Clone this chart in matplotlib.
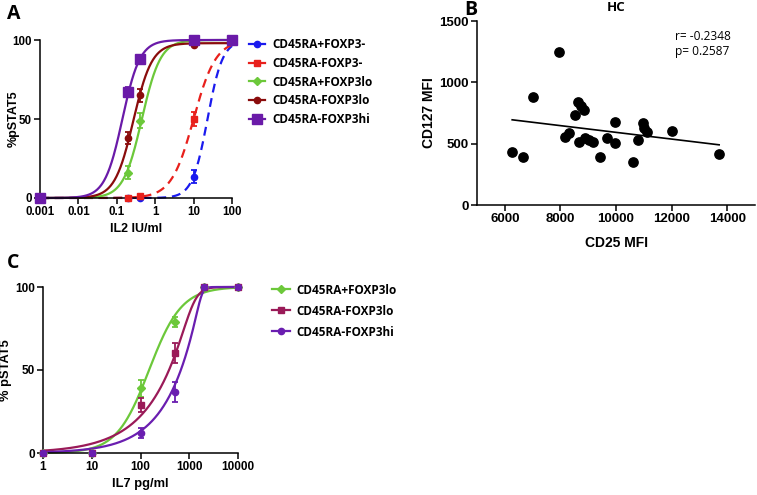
import numpy as np
import matplotlib
matplotlib.use("Agg")
import matplotlib.pyplot as plt
from matplotlib.lines import Line2D

# ---- panel A: IL2 dose response ----
il2_dose = [0.001, 0.2, 0.4, 10, 100]
a_labels = ["CD45RA+FOXP3-", "CD45RA-FOXP3-", "CD45RA+FOXP3lo", "CD45RA-FOXP3lo", "CD45RA-FOXP3hi"]
a_ra_pos_neg = [0, 0, 0, 13.5, 100]
a_ra_pos_neg_err = [0, 0, 0, 4, 0]
a_ra_neg_neg = [0, 0, 1, 50, 100]
a_ra_neg_neg_err = [0, 0, 0.5, 4.5, 0]
a_ra_pos_lo = [0, 16, 49, 99, 100]
a_ra_pos_lo_err = [0, 4, 5, 0, 0]
a_ra_neg_lo = [0, 38, 65, 97, 100]
a_ra_neg_lo_err = [0, 4, 4, 1, 0]
a_ra_neg_hi = [0, 67, 88, 100, 100]
a_ra_neg_hi_err = [0, 3, 2, 0, 0]
# fitted curve parameters (EC50, hill slope, top)
a_fit = [(23, 2.2, 100), (10, 1.5, 100), (0.45, 1.8, 100), (0.27, 1.8, 98), (0.14, 1.9, 100)]

# ---- panel B: CD25 vs CD127 ----
cd25_mfi = [6265, 6653, 7026, 7958, 8175, 8295, 8537, 8621, 8744, 8864, 8657, 8900, 9045,
            9190, 9433, 9672, 9951, 9976, 10615, 10795, 10977, 11003, 11100, 12029, 13710]
cd127_mfi = [431, 388, 881, 1248, 551, 584, 730, 841, 806, 773, 515, 543, 529,
             515, 388, 543, 678, 507, 350, 529, 665, 629, 597, 600, 418]
b_stats = ["r= -0.2348", "p= 0.2587"]

# ---- panel C: IL7 dose response ----
il7_dose = [1, 10, 100, 500, 2000, 10000]
c_labels = ["CD45RA+FOXP3lo", "CD45RA-FOXP3lo", "CD45RA-FOXP3hi"]
c_ra_pos_lo = [0, 0, 39, 79, 100, 100]
c_ra_pos_lo_err = [0, 0, 5, 3, 0, 0]
c_ra_neg_lo = [0, 0, 29, 60, 100, 100]
c_ra_neg_lo_err = [0, 0, 4, 6, 0, 0]
c_ra_neg_hi = [0, 0, 12, 37, 100, 100]
c_ra_neg_hi_err = [0, 0, 3, 6, 0, 0]
# asymmetric fit parameters (EC50, hill, asymmetry)
c_fit = [(150, 1.3, 1.0), (1218, 4, 0.15), (1810, 10, 0.07)]


def dose_curve(x, ec50, hill, top=100, asym=1.0):
    return top / (1 + (ec50 / x) ** hill) ** asym


def style_axes(ax, tick_size):
    for s in ["top", "right"]:
        ax.spines[s].set_visible(False)
    for s in ["left", "bottom"]:
        ax.spines[s].set_linewidth(1.1)
    ax.tick_params(length=4, width=1.1, direction="out", pad=2)
    ax.tick_params(which="minor", length=0)
    for lab in ax.get_xticklabels() + ax.get_yticklabels():
        lab.set_fontfamily("Liberation Sans")
        lab.set_fontweight("bold")
        lab.set_fontsize(tick_size)


def bold_label(size):
    return dict(family="Liberation Sans", weight="bold", size=size)


fig = plt.figure(figsize=(7.57, 4.95), dpi=100)
W, H = 757, 495


def px_axes(left, top, right, bottom):
    return fig.add_axes([left / W, 1 - bottom / H, (right - left) / W, (bottom - top) / H])


# ---------------- A ----------------
axA = px_axes(40, 40, 232, 198)
a_series = [a_ra_pos_neg, a_ra_neg_neg, a_ra_pos_lo, a_ra_neg_lo, a_ra_neg_hi]
a_errs = [a_ra_pos_neg_err, a_ra_neg_neg_err, a_ra_pos_lo_err, a_ra_neg_lo_err, a_ra_neg_hi_err]
a_colors = ["#1a1aee", "#e8201c", "#6cc83a", "#8a0c0c", "#6a1aa8"]
a_markers = ["o", "s", "D", "o", "s"]
a_msize = [4.5, 5, 4.5, 4.5, 6.5]
a_dash = [True, True, False, False, False]
xs = np.logspace(-3, 2, 400)
for i in range(5):
    ec50, hill, top = a_fit[i]
    ls = (0, (4, 2.6)) if a_dash[i] else "-"
    axA.plot(xs, dose_curve(xs, ec50, hill, top), color=a_colors[i], lw=1.6, ls=ls,
             clip_on=False, zorder=2 + i * 0.1)
for i in range(5):
    axA.errorbar(il2_dose, a_series[i], yerr=a_errs[i], fmt=a_markers[i], color=a_colors[i],
                 ms=a_msize[i], capsize=2.5, elinewidth=1.3, capthick=1.3, clip_on=False, zorder=4)
axA.set_xscale("log")
axA.set_xlim(0.001, 100)
axA.set_ylim(0, 100)
axA.set_xticks([0.001, 0.01, 0.1, 1, 10, 100])
axA.set_xticklabels(["0.001", "0.01", "0.1", "1", "10", "100"])
axA.set_yticks([0, 50, 100])
style_axes(axA, 8.3)
axA.set_xlabel("IL2 IU/ml", labelpad=3, **bold_label(9))
axA.set_ylabel("%pSTAT5", **bold_label(9))
axA.yaxis.set_label_coords(-0.105, 0.5)

a_handles = [Line2D([], [], color=a_colors[i], marker=a_markers[i], ms=a_msize[i], lw=1.6)
             for i in range(5)]
fig.legend(a_handles, a_labels, loc="upper left", bbox_to_anchor=(249 / W, 1 - 38.5 / H),
           frameon=False, borderpad=0, borderaxespad=0, handlelength=1.36, handletextpad=0.65,
           labelspacing=0.47, prop=dict(family="Open Sans", weight="bold", size=8.5))

# ---------------- B ----------------
axB = px_axes(477, 21, 755, 205)
axB.plot(cd25_mfi, cd127_mfi, "o", color="black", ms=6.7, clip_on=False, zorder=3)
slope, intercept = np.polyfit(cd25_mfi, cd127_mfi, 1)
fit_x = np.array([min(cd25_mfi), max(cd25_mfi)])
axB.plot(fit_x, slope * fit_x + intercept, color="black", lw=1.2, zorder=2)
axB.set_xlim(5000, 15000)
axB.set_ylim(0, 1500)
axB.set_xticks([6000, 8000, 10000, 12000, 14000])
axB.set_yticks([0, 500, 1000, 1500])
style_axes(axB, 9.5)
axB.set_xlabel("CD25 MFI", labelpad=8, **bold_label(10))
axB.set_ylabel("CD127 MFI", **bold_label(10))
axB.yaxis.set_label_coords(-0.148, 0.5)
axB.set_title("HC", fontfamily="Open Sans", fontweight="bold", fontsize=9.5, pad=7)
axB.text(0.712, 0.918, b_stats[0], transform=axB.transAxes, fontfamily="Open Sans",
         fontsize=8.6, va="center", ha="left")
axB.text(0.712, 0.832, b_stats[1], transform=axB.transAxes, fontfamily="Open Sans",
         fontsize=8.6, va="center", ha="left")

# ---------------- C ----------------
axC = px_axes(43, 287, 238, 453)
c_series = [c_ra_pos_lo, c_ra_neg_lo, c_ra_neg_hi]
c_errs = [c_ra_pos_lo_err, c_ra_neg_lo_err, c_ra_neg_hi_err]
c_colors = ["#6cc83a", "#9a1a58", "#6a1eb0"]
c_markers = ["D", "s", "o"]
c_msize = [4.5, 5, 4.5]
xs7 = np.logspace(0, 4, 400)
for i in range(3):
    ec50, hill, asym = c_fit[i]
    axC.plot(xs7, dose_curve(xs7, ec50, hill, 100, asym), color=c_colors[i], lw=1.6,
             clip_on=False, zorder=2 + i * 0.1)
for i in range(3):
    axC.errorbar(il7_dose, c_series[i], yerr=c_errs[i], fmt=c_markers[i], color=c_colors[i],
                 ms=c_msize[i], capsize=2.5, elinewidth=1.3, capthick=1.3, clip_on=False, zorder=4)
axC.set_xscale("log")
axC.set_xlim(1, 10000)
axC.set_ylim(0, 100)
axC.set_xticks([1, 10, 100, 1000, 10000])
axC.set_xticklabels(["1", "10", "100", "1000", "10000"])
axC.set_yticks([0, 50, 100])
style_axes(axC, 8.5)
axC.set_xlabel("IL7 pg/ml", labelpad=3, **bold_label(9.3))
axC.set_ylabel("% pSTAT5", **bold_label(9.3))
axC.yaxis.set_label_coords(-0.16, 0.5)

c_handles = [Line2D([], [], color=c_colors[i], marker=c_markers[i], ms=c_msize[i], lw=1.6)
             for i in range(3)]
fig.legend(c_handles, c_labels, loc="upper left", bbox_to_anchor=(272 / W, 1 - 283.5 / H),
           frameon=False, borderpad=0, borderaxespad=0, handlelength=1.5, handletextpad=0.6,
           labelspacing=0.68, prop=dict(family="Open Sans", weight="bold", size=8.5))

# panel letters
for letter, x, y in [("A", 7, 4), ("B", 464, 0), ("C", 7, 253)]:
    fig.text(x / W, 1 - y / H, letter, fontfamily="Open Sans", fontweight="bold",
             fontsize=14, va="top", ha="left")

fig.savefig("out.png", dpi=100)
